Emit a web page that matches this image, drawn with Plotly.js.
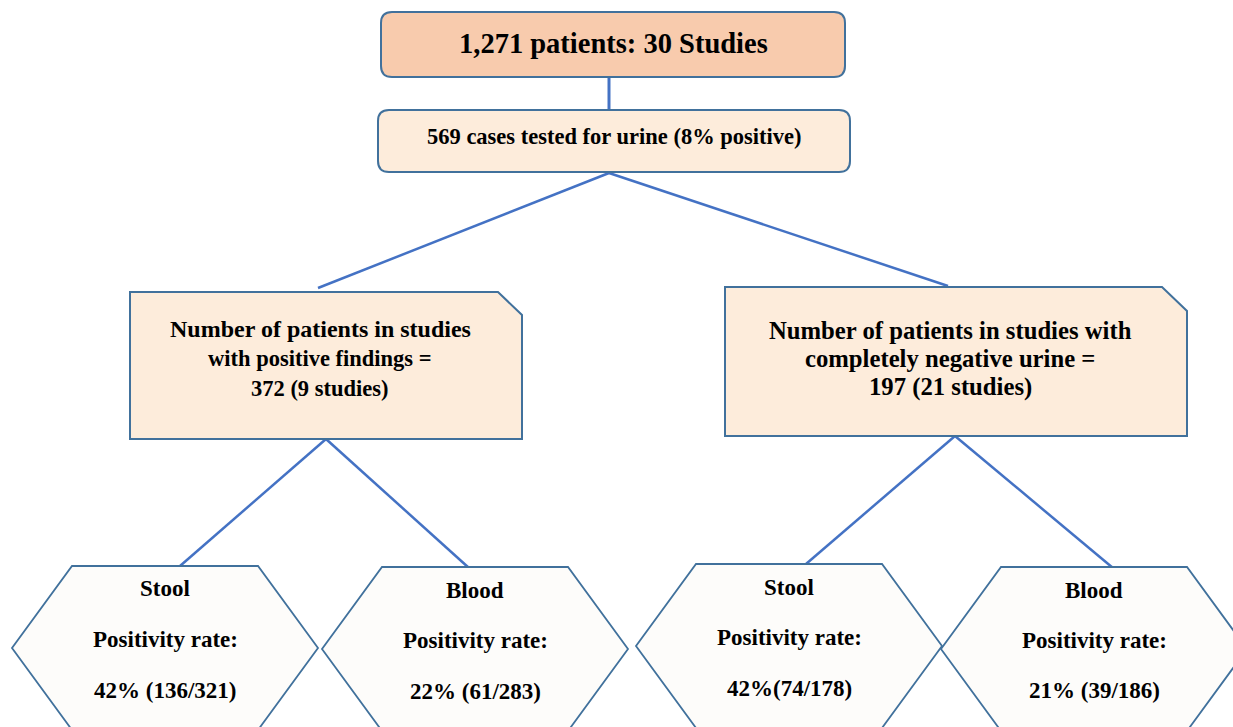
<!DOCTYPE html>
<html>
<head>
<meta charset="utf-8">
<script src="https://cdn.plot.ly/plotly-3.0.1.min.js"></script>
<style>html,body{margin:0;padding:0;background:#fff;}#chart{width:1233px;height:727px;}</style>
</head>
<body>
<div id="chart"></div>
<script>
// ---- data ----
const totalPatients = "1,271";
const totalStudies = 30;
const urineCases = 569;
const urinePositivePct = 8;
const groupLine1 = ["Number of patients in studies", "Number of patients in studies with"];
const groupLine2 = ["with positive findings =", "completely negative urine ="];
const groupPatients = [372, 197];
const groupStudies = [9, 21];
const specimenTypes = ["Stool", "Blood", "Stool", "Blood"];
const positivityPct = [42, 22, 42, 21];
const positiveCounts = [136, 61, 74, 39];
const testedCounts = [321, 283, 178, 186];
const rateSeparators = [" ", " ", "", " "];

// ---- geometry / style (not data) ----
const LINE = "#4472C4", BORDER = "#41719C";
const FONT = "Liberation Serif";
const BOXFILL = "#FDECDB";
const groupGeo = [
  {x0:130, x1:522, y0:292, y1:439, cut:24, cx:326, tx:320, ty:[329,358,388], fs:[24,22.5,22.5], top:[318,288]},
  {x0:725, x1:1187, y0:287, y1:436, cut:25, cx:955, tx:950, ty:[330,358,387], fs:[24.7,24.7,24.7], top:[948,286]}
];
const hexGeo = [
  {cx:165, cy:648, ty:[588,639,690]},
  {cx:475, cy:649, ty:[590,640,691]},
  {cx:789, cy:646, ty:[587,637,688]},
  {cx:1094, cy:649, ty:[590,640,690]}
];
const HW = 153, HT = 93, HH = 82;

function rrect(x0,y0,x1,y1,r){
  return `M${x0+r},${y0} L${x1-r},${y0} Q${x1},${y0} ${x1},${y0+r} L${x1},${y1-r} Q${x1},${y1} ${x1-r},${y1} L${x0+r},${y1} Q${x0},${y1} ${x0},${y1-r} L${x0},${y0+r} Q${x0},${y0} ${x0+r},${y0} Z`;
}
function hexPath(g){
  const {cx,cy}=g;
  return `M${cx-HT},${cy-HH} L${cx+HT},${cy-HH} L${cx+HW},${cy} L${cx+HT},${cy+HH} L${cx-HT},${cy+HH} L${cx-HW},${cy} Z`;
}

const shapes = [];
const annotations = [];
function ann(x,y,text,size){
  annotations.push({x:x, y:y, xref:'x', yref:'y', text:'<b>'+text+'</b>', showarrow:false,
    xanchor:'center', yanchor:'middle', font:{family:FONT, size:size, color:'#000'}});
}
function line(x0,y0,x1,y1,w){
  shapes.push({type:'line', xref:'x', yref:'y', x0:x0, y0:y0, x1:x1, y1:y1, line:{color:LINE, width:w}});
}

// connectors
line(609, 78, 609, 110, 3);
line(609, 173, groupGeo[0].top[0], groupGeo[0].top[1], 2.5);
line(609, 173, groupGeo[1].top[0], groupGeo[1].top[1], 2.5);
line(groupGeo[0].cx, groupGeo[0].y1, 180, 566, 2.5);
line(groupGeo[0].cx, groupGeo[0].y1, 469, 568, 2.5);
line(groupGeo[1].cx, groupGeo[1].y1, 806, 564, 2.5);
line(groupGeo[1].cx, groupGeo[1].y1, 1113, 568, 2.5);

// top box
shapes.push({type:'path', xref:'x', yref:'y', path:rrect(381,12,845,77,11), fillcolor:'#F8CBAD', line:{color:BORDER, width:2}});
ann(613, 43, `${totalPatients} patients: ${totalStudies} Studies`, 28.5);

// urine box
shapes.push({type:'path', xref:'x', yref:'y', path:rrect(378,110,850,172,11), fillcolor:BOXFILL, line:{color:BORDER, width:2}});
ann(614, 136, `${urineCases} cases tested for urine (${urinePositivePct}% positive)`, 22.5);

// group boxes
groupGeo.forEach((g,i)=>{
  const p = `M${g.x0},${g.y0} L${g.x1-g.cut},${g.y0} L${g.x1},${g.y0+g.cut-1} L${g.x1},${g.y1} L${g.x0},${g.y1} Z`;
  shapes.push({type:'path', xref:'x', yref:'y', path:p, fillcolor:BOXFILL, line:{color:BORDER, width:2}});
  ann(g.tx, g.ty[0], groupLine1[i], g.fs[0]);
  ann(g.tx, g.ty[1], groupLine2[i], g.fs[1]);
  ann(g.tx, g.ty[2], `${groupPatients[i]} (${groupStudies[i]} studies)`, g.fs[2]);
});

// hexagons: fills first, then outlines
hexGeo.forEach(g=>{
  shapes.push({type:'path', xref:'x', yref:'y', path:hexPath(g), fillcolor:'#FDFCFA', line:{width:0}});
});
hexGeo.forEach((g,i)=>{
  shapes.push({type:'path', xref:'x', yref:'y', path:hexPath(g), fillcolor:'rgba(0,0,0,0)', line:{color:BORDER, width:1.8}});
  ann(g.cx, g.ty[0], specimenTypes[i], 23);
  ann(g.cx, g.ty[1], 'Positivity rate:', 23);
  ann(g.cx, g.ty[2], `${positivityPct[i]}%${rateSeparators[i]}(${positiveCounts[i]}/${testedCounts[i]})`, 23);
});

const layout = {
  width:1233, height:727,
  margin:{l:0, r:0, t:0, b:0},
  paper_bgcolor:'#fff', plot_bgcolor:'#fff',
  xaxis:{range:[0,1233], visible:false, fixedrange:true},
  yaxis:{range:[727,0], visible:false, fixedrange:true},
  showlegend:false,
  shapes:shapes,
  annotations:annotations
};
Plotly.newPlot('chart', [], layout, {staticPlot:true, displayModeBar:false});
</script>
</body>
</html>
